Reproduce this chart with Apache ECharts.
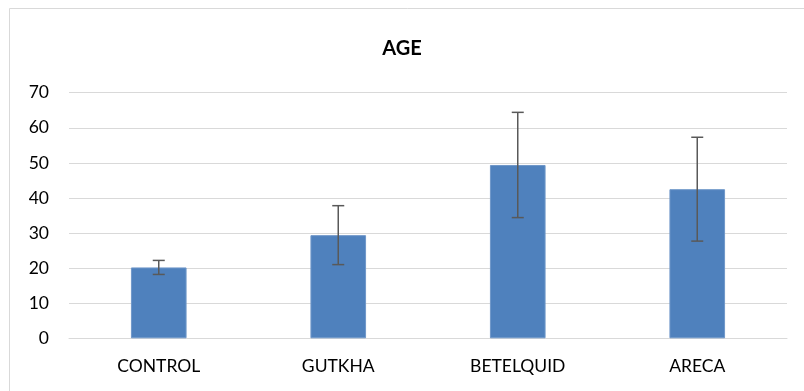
<!DOCTYPE html>
<html><head><meta charset="utf-8">
<script src="https://cdn.jsdelivr.net/npm/echarts@6/dist/echarts.min.js"></script>
<style>html,body{margin:0;padding:0;background:#fff}#c{width:804px;height:391px}</style>
</head><body><div id="c"></div>
<script>
const categories = ['CONTROL', 'GUTKHA', 'BETELQUID', 'ARECA'];
const means = [20.2, 29.4, 49.4, 42.5];
const errors = [2.0, 8.4, 15.0, 14.8];
const yTicks = [0, 10, 20, 30, 40, 50, 60, 70];

const chart = echarts.init(document.getElementById('c'), null, {renderer: 'canvas'});
const font = 'Lato, "Liberation Sans", sans-serif';
const errData = categories.map((c, i) => [i, means[i] - errors[i], means[i] + errors[i]]);

chart.setOption({
  animation: false,
  backgroundColor: '#fff',
  title: {text: 'AGE', left: 'center', top: 34, textStyle: {fontFamily: font, fontSize: 20, fontWeight: 'bold', color: '#000'}},
  graphic: [{type: 'rect', shape: {x: 9.5, y: 8.5, width: 900, height: 500}, style: {fill: 'none', stroke: '#d9d9d9', lineWidth: 1}, silent: true}],
  grid: {left: 69, right: 17, top: 92.7, bottom: 52.7, containLabel: false},
  xAxis: {
    type: 'category', data: categories,
    axisLine: {lineStyle: {color: '#d9d9d9', width: 1}},
    axisTick: {show: false},
    axisLabel: {fontFamily: font, fontSize: 17.5, color: '#000', margin: 19}
  },
  yAxis: {
    type: 'value', min: yTicks[0], max: yTicks[yTicks.length - 1], interval: 10,
    axisLine: {show: false}, axisTick: {show: false},
    splitLine: {lineStyle: {color: '#d9d9d9', width: 1}},
    axisLabel: {fontFamily: font, fontSize: 17.5, color: '#000', margin: 20}
  },
  series: [
    {type: 'bar', data: means, barWidth: '31%', itemStyle: {color: '#4F81BD', borderColor: '#6f97c9', borderWidth: 1}},
    {
      type: 'custom', data: errData, z: 10,
      renderItem: function (params, api) {
        const x = api.value(0);
        const lo = api.coord([x, api.value(1)]);
        const hi = api.coord([x, api.value(2)]);
        const cap = 6;
        const st = {stroke: '#595959', lineWidth: 1.5};
        return {type: 'group', children: [
          {type: 'line', shape: {x1: hi[0], y1: hi[1], x2: lo[0], y2: lo[1]}, style: st},
          {type: 'line', shape: {x1: hi[0] - cap, y1: hi[1], x2: hi[0] + cap, y2: hi[1]}, style: st},
          {type: 'line', shape: {x1: lo[0] - cap, y1: lo[1], x2: lo[0] + cap, y2: lo[1]}, style: st}
        ]};
      }
    }
  ]
});
</script></body></html>
